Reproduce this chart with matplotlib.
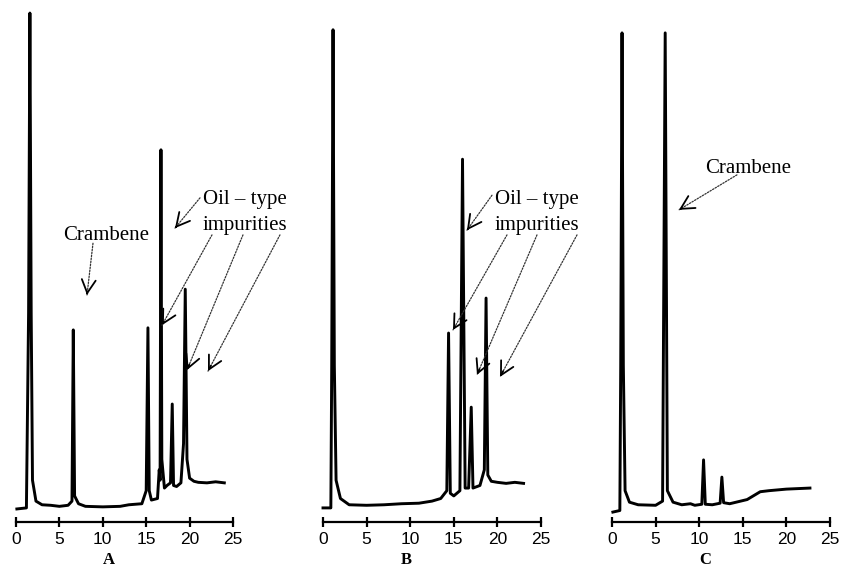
import matplotlib
matplotlib.use("Agg")
import matplotlib.pyplot as plt

# retention time (min) / detector response (% of full scale)
time_a = [0.1, 1.2, 1.45, 1.6, 1.75, 1.9, 2.3, 3.0, 4.0, 5.0, 6.0, 6.45, 6.6, 6.75, 7.2, 8.0, 10.0,
          12.0, 13.0, 14.5, 15.0, 15.2, 15.35, 15.6, 16.3, 16.5, 16.6, 16.7, 16.8, 17.1, 17.4, 17.8,
          18.0, 18.15, 18.5, 19.0, 19.3, 19.5, 19.7, 20.0, 20.5, 21.0, 22.0, 23.0, 24.0]
resp_a = [2.5, 2.7, 40, 97.5, 40, 8, 4.0, 3.3, 3.2, 3.0, 3.2, 4.0, 36.8, 5.0, 3.5, 3.0, 2.9,
          3.0, 3.3, 3.5, 6.0, 37.2, 6.0, 4.2, 4.5, 10.0, 8.0, 71.3, 12.0, 6.5, 7.0, 7.5,
          22.6, 7.0, 6.8, 7.5, 15.0, 44.6, 12.0, 8.4, 7.8, 7.6, 7.5, 7.7, 7.5]

time_b = [0.0, 0.9, 1.0, 1.15, 1.3, 1.5, 2.0, 3.0, 5.0, 7.0, 9.0, 11.0, 12.5, 13.5, 14.2, 14.4,
          14.6, 15.0, 15.7, 16.0, 16.3, 16.7, 17.0, 17.2, 18.0, 18.5, 18.7, 18.9, 19.3, 20.0,
          21.0, 22.0, 23.0]
resp_b = [2.7, 2.7, 30, 94.3, 30, 8, 4.5, 3.3, 3.2, 3.3, 3.5, 3.6, 4.0, 4.5, 6.0, 36.2,
          5.5, 5.0, 6.0, 69.5, 6.5, 6.5, 22.0, 6.5, 7.0, 10.0, 42.9, 9.0, 7.8, 7.6,
          7.4, 7.6, 7.4]

time_c = [0.1, 0.9, 1.0, 1.15, 1.3, 1.5, 2.0, 3.0, 5.0, 5.8, 6.1, 6.35, 7.0, 8.0, 9.0, 9.5,
          10.3, 10.5, 10.7, 11.5, 12.4, 12.6, 12.8, 13.5, 14.5, 15.5, 16.5, 17.0, 18.0, 20.0, 22.7]
resp_c = [1.9, 2.2, 30, 93.7, 30, 6, 3.8, 3.3, 3.2, 4.0, 93.7, 6.0, 3.8, 3.3, 3.5, 3.2,
          3.4, 11.9, 3.4, 3.3, 3.6, 8.6, 3.7, 3.5, 3.9, 4.3, 5.3, 5.8, 6.0, 6.3, 6.5]

panel_labels = ["A", "B", "C"]
x_ticks = [0, 5, 10, 15, 20, 25]

serif = "Liberation Serif"
sans = "Liberation Sans"


def pointer(ax, start, end):
    # dotted leader with a solid open arrow head
    ax.annotate("", xy=end, xytext=start,
                arrowprops=dict(arrowstyle="-", ls=(0, (1.2, 1.2)), lw=0.9, color="#333333",
                                shrinkA=0, shrinkB=0), annotation_clip=False)
    bx = end[0] + (start[0] - end[0]) * 0.04
    by = end[1] + (start[1] - end[1]) * 0.04
    ax.annotate("", xy=end, xytext=(bx, by),
                arrowprops=dict(arrowstyle="->,head_length=0.95,head_width=0.5", lw=1.3,
                                color="black", shrinkA=0, shrinkB=0), annotation_clip=False)


fig = plt.figure(figsize=(8.44, 5.71), dpi=100)
lefts = [16, 323, 612]
rights = [233, 541, 830]
traces = [(time_a, resp_a), (time_b, resp_b), (time_c, resp_c)]
label_x = [10.7, 9.6, 10.7]
axes = []
for i in range(3):
    ax = fig.add_axes([lefts[i] / 844, 49 / 571, (rights[i] - lefts[i]) / 844, 522 / 571])
    t, r = traces[i]
    ax.plot(t, r, color="black", lw=2.1, solid_joinstyle="round", clip_on=False)
    ax.set_xlim(0, 25)
    ax.set_ylim(0, 100)
    for s in ["top", "right", "left"]:
        ax.spines[s].set_visible(False)
    ax.spines["bottom"].set_linewidth(1.6)
    ax.set_yticks([])
    ax.set_xticks(x_ticks)
    ax.tick_params(axis="x", direction="inout", length=7, width=1.6, pad=4, labelsize=12.5)
    for lab in ax.get_xticklabels():
        lab.set_fontfamily(sans)
    ax.text(label_x[i], -8.0, panel_labels[i], ha="center", va="baseline",
            fontfamily=serif, fontweight="bold", fontsize=12, clip_on=False)
    axes.append(ax)

ax_a, ax_b, ax_c = axes

# panel A
ax_a.text(10.37, 54.0, "Crambene", ha="center", va="baseline", fontfamily=serif, fontsize=15)
pointer(ax_a, (8.87, 53.4), (8.18, 43.5))
ax_a.text(21.54, 60.9, "Oil \u2013 type", ha="left", va="baseline", fontfamily=serif, fontsize=15)
ax_a.text(21.54, 55.9, "impurities", ha="left", va="baseline", fontfamily=serif, fontsize=15)
pointer(ax_a, (21.2, 62.1), (18.32, 56.3))
pointer(ax_a, (22.58, 55.0), (16.82, 37.7))
pointer(ax_a, (26.15, 55.0), (19.7, 29.1))
pointer(ax_a, (30.41, 55.0), (22.12, 28.9))

# panel B
ax_b.text(19.72, 60.9, "Oil \u2013 type", ha="left", va="baseline", fontfamily=serif, fontsize=15)
ax_b.text(19.72, 55.9, "impurities", ha="left", va="baseline", fontfamily=serif, fontsize=15)
pointer(ax_b, (19.38, 62.6), (16.51, 55.9))
pointer(ax_b, (21.1, 55.0), (14.91, 36.8))
pointer(ax_b, (24.54, 55.0), (17.66, 28.2))
pointer(ax_b, (29.13, 55.0), (20.3, 27.8))

# panel C
ax_c.text(15.6, 66.9, "Crambene", ha="center", va="baseline", fontfamily=serif, fontsize=15)
pointer(ax_c, (14.33, 66.5), (7.68, 59.8))

fig.savefig("out.png", dpi=100)
